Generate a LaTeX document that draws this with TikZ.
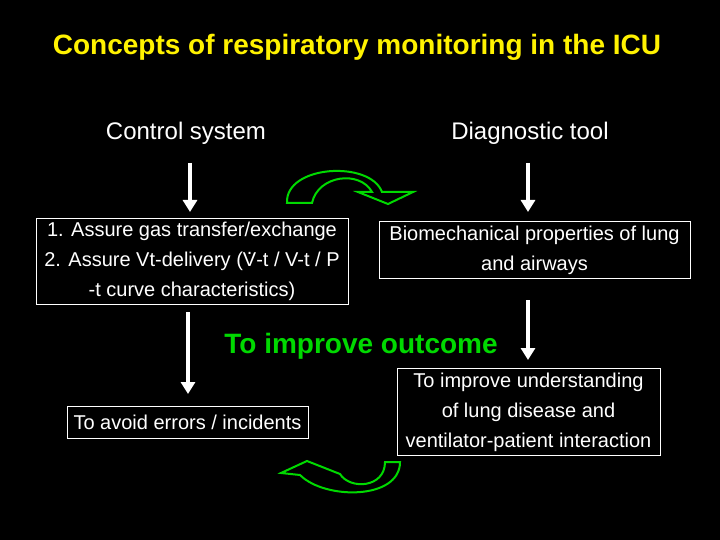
\documentclass[tikz,border=0pt]{standalone}
\usepackage{fontspec}
\setmainfont{Liberation Sans}
\usetikzlibrary{arrows.meta}
\newcommand{\vdotV}{{\ooalign{V\cr\hidewidth\raisebox{0.62em}{.}\hidewidth}}}
\begin{document}
\begin{tikzpicture}[x=1pt,y=-1pt,
  box/.style={draw=white,line width=0.8pt,align=center,font=\fontsize{20}{30}\selectfont,text=white,inner sep=4pt},
  lbl/.style={text=white,font=\fontsize{24}{28}\selectfont},
  varrow/.style={white,line width=4pt,-{Triangle[width=14pt,length=12pt]}},
  garrow/.style={draw=green!85!black,line width=2pt,line join=miter}]
\fill[black] (0,0) rectangle (720,540);
\useasboundingbox (0,0) rectangle (720,540);
\node[text=yellow,font=\bfseries\fontsize{28}{32}\selectfont] (title) at (357,47) {Concepts of respiratory monitoring in the ICU};
\node[lbl] (ctrl) at (186,133) {Control system};
\node[lbl] (diag) at (530,133) {Diagnostic tool};
\node[box,minimum width=312pt,minimum height=79pt] (b1) at (192,261.5) {1. Assure gas transfer/exchange\\2. Assure Vt-delivery (\vdotV-t / V-t / P\\-t curve characteristics)};
\node[box,minimum width=311pt,minimum height=56pt] (b2) at (534.5,250) {Biomechanical properties of lung\\and airways};
\node[text=green!85!black,font=\bfseries\fontsize{28}{32}\selectfont] (out) at (361,346) {To improve outcome};
\node[box,minimum width=241pt,minimum height=32pt] (b3) at (187.5,422) {To avoid errors / incidents};
\node[box,minimum width=263pt,minimum height=80pt] (b4) at (528.5,412) {To improve understanding\\of lung disease and\\ventilator-patient interaction};
\coordinate (a1s) at (190,163); \coordinate (a1e) at (190,212);
\coordinate (a2s) at (528,163); \coordinate (a2e) at (528,212);
\coordinate (a3s) at (188,312); \coordinate (a3e) at (188,394);
\coordinate (a4s) at (528,300); \coordinate (a4e) at (528,360);
\draw[varrow] (a1s) -- (a1e);
\draw[varrow] (a2s) -- (a2e);
\draw[varrow] (a3s) -- (a3e);
\draw[varrow] (a4s) -- (a4e);
\draw[garrow] (287,203) .. controls (285,165) and (370,160) .. (382,192) -- (413,192) -- (388,204) -- (358,192) -- (372,192) .. controls (360,170) and (318,175) .. (312,203) -- cycle;
\draw[garrow] (400,462) .. controls (400,500) and (325,500) .. (300,475) -- (281,473) -- (307,461) -- (340,474) .. controls (350,490) and (385,488) .. (385,462) -- cycle;
\end{tikzpicture}
\end{document}
